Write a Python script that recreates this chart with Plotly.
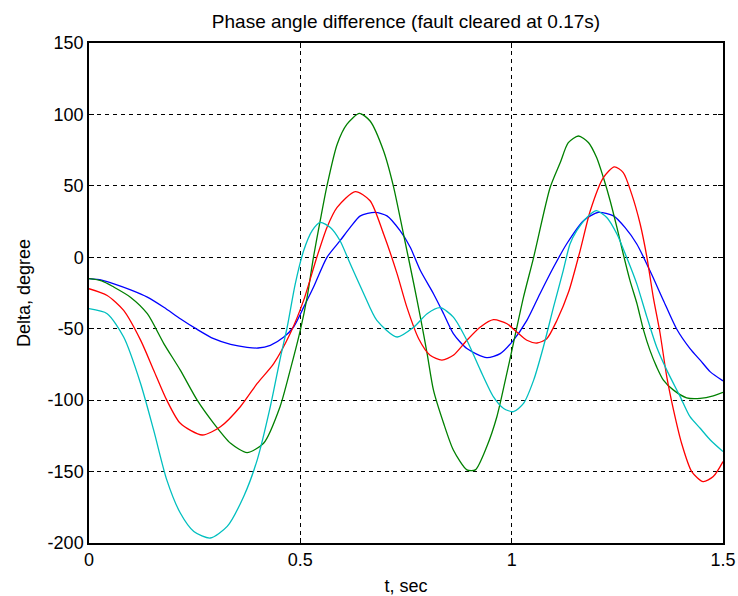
import plotly.graph_objects as go

# ---- data ----
t_blue = [0, 0.03, 0.059, 0.1, 0.138, 0.177, 0.216, 0.256, 0.295, 0.335, 0.374, 0.40, 0.429, 0.461,
          0.484, 0.508, 0.531, 0.563, 0.594, 0.618, 0.642, 0.677, 0.705, 0.736, 0.76, 0.784, 0.815,
          0.839, 0.862, 0.894, 0.941, 0.973, 1.004, 1.036, 1.067, 1.099, 1.13, 1.17, 1.205, 1.241,
          1.268, 1.296, 1.327, 1.359, 1.39, 1.422, 1.446, 1.47, 1.5]
y_blue = [-15, -16, -18.6, -23, -27.9, -35, -43, -50.5, -57, -61, -63, -63.5, -61.6, -55.8,
          -48.8, -34.9, -21, 0, 11.6, 20.9, 29, 31.4, 29, 18.6, 7, -9.3, -25.5,
          -39.5, -53.4, -63.9, -70.2, -67.4, -58.1, -44.2, -25.5, -7, 9.3, 25.6, 31.4, 29,
          20.9, 9.3, -9.3, -30.2, -50, -63.9, -72, -80.2, -86.5]

t_green = [0, 0.03, 0.059, 0.098, 0.138, 0.177, 0.216, 0.256, 0.295, 0.335, 0.374, 0.413, 0.452,
           0.476, 0.5, 0.516, 0.531, 0.547, 0.563, 0.587, 0.61, 0.64, 0.665, 0.697, 0.72, 0.744,
           0.768, 0.784, 0.8, 0.815, 0.839, 0.862, 0.894, 0.914, 0.941, 0.965, 0.985, 1.004, 1.028,
           1.052, 1.091, 1.115, 1.134, 1.158, 1.182, 1.201, 1.217, 1.233, 1.249, 1.264, 1.28, 1.296,
           1.312, 1.327, 1.343, 1.359, 1.383, 1.414, 1.446, 1.477, 1.5]
y_green = [-15, -16.5, -20.9, -27.9, -39.5, -60.4, -79, -100, -116.2, -130.2, -136.7, -130.2, -104.6,
           -79, -51, -28, 0, 25.6, 50, 79, 93, 100.7, 95.4, 74.4, 50, 16.3,
           -18, -41.9, -67.4, -93, -116.2, -134.9, -148.8, -148.8, -132.6, -111.6, -86, -60.4, -27.9,
           0, 48.8, 66.3, 80.2, 84.9, 80.2, 69.8, 55.8, 39.6, 20.9, 2.3, -16.3, -32,
           -51, -65, -76.7, -86, -93, -98.4, -98.8, -97, -94.5]

t_red = [0, 0.043, 0.082, 0.122, 0.153, 0.184, 0.216, 0.268, 0.311, 0.358, 0.398, 0.437, 0.476,
         0.508, 0.539, 0.563, 0.587, 0.63, 0.665, 0.697, 0.729, 0.752, 0.78, 0.807, 0.835, 0.862,
         0.894, 0.926, 0.957, 0.989, 1.012, 1.036, 1.06, 1.083, 1.107, 1.135, 1.162, 1.186, 1.217,
         1.243, 1.264, 1.284, 1.304, 1.32, 1.335, 1.351, 1.367, 1.383, 1.402, 1.426, 1.453, 1.477, 1.5]
y_red = [-22, -26.7, -37.2, -58, -79, -100, -116.2, -124.4, -118.6, -104.6, -88.3, -74.4, -53.4,
         -30, 0, 20.9, 34.9, 46, 39.6, 16.3, -11.6, -34.9, -57, -68.6, -72, -68.6,
         -58.1, -48.8, -43.7, -46.5, -52.3, -58.1, -60, -57, -44.2, -24, 4.7, 32.6, 55.8,
         63.3, 59.3, 44.2, 23.3, 0, -27.9, -53, -83.7, -107, -130.2, -150, -157, -153.5, -143]

t_cyan = [0, 0.043, 0.082, 0.122, 0.153, 0.184, 0.216, 0.248, 0.287, 0.327, 0.366, 0.398, 0.429,
          0.453, 0.469, 0.488, 0.508, 0.528, 0.547, 0.571, 0.594, 0.618, 0.65, 0.681, 0.729, 0.768,
          0.8, 0.831, 0.862, 0.894, 0.926, 0.957, 0.981, 1.004, 1.028, 1.052, 1.075, 1.099, 1.122,
          1.138, 1.154, 1.178, 1.2, 1.225, 1.249, 1.272, 1.296, 1.32, 1.343, 1.367, 1.399, 1.422,
          1.446, 1.47, 1.5]
y_cyan = [-36, -39.5, -55.8, -88.3, -121, -155.8, -179, -191.9, -196.5, -188.4, -167.4, -141.8, -104.6,
          -70, -48.8, -18.6, 4.7, 18.6, 24.4, 20.9, 11.6, -4.6, -25.5, -44.2, -55.8, -49,
          -39.5, -35.3, -41.9, -58.1, -79, -97.7, -105.8, -108.1, -102.3, -86, -62.8, -34.9, -9.3,
          9.3, 18.6, 27.9, 32.6, 27.9, 16.3, 0, -18.6, -41.9, -62.8, -79, -97.7, -111.6,
          -119.7, -127.9, -136]

x_ticks = [0, 0.5, 1, 1.5]
x_ticklabels = ["0", "0.5", "1", "1.5"]
y_ticks = [-200, -150, -100, -50, 0, 50, 100, 150]
y_ticklabels = ["-200", "-150", "-100", "-50", "0", "50", "100", "150"]

series = [
    (t_blue, y_blue, "#0000FF"),
    (t_green, y_green, "#008000"),
    (t_red, y_red, "#FF0000"),
    (t_cyan, y_cyan, "#00BFBF"),
]

FONT = "Liberation Sans, Arial, sans-serif"

fig = go.Figure()
for tx, ty, col in series:
    fig.add_trace(go.Scatter(x=tx, y=ty, mode="lines",
                             line=dict(color=col, width=1.3, shape="spline", smoothing=0.7),
                             showlegend=False, hoverinfo="skip"))

axis_common = dict(
    showline=True, linecolor="black", linewidth=1.5, mirror="ticks",
    ticks="inside", ticklen=5, tickcolor="black", tickwidth=1,
    showgrid=True, gridcolor="black", gridwidth=1, griddash="4px,4px",
    zeroline=False, automargin=False,
    tickfont=dict(family=FONT, size=18, color="black"),
)

fig.update_xaxes(range=[0, 1.5], tickvals=x_ticks, ticktext=x_ticklabels,
                 title=dict(text="t, sec", font=dict(family=FONT, size=18, color="black"), standoff=10),
                 **axis_common)
fig.update_yaxes(range=[-200, 150], tickvals=y_ticks, ticktext=y_ticklabels,
                 title=dict(text="Delta, degree", font=dict(family=FONT, size=18, color="black"), standoff=12),
                 **axis_common)

fig.update_layout(
    width=738, height=596,
    margin=dict(l=89, r=15, t=43, b=53, autoexpand=False),
    paper_bgcolor="white", plot_bgcolor="white",
    title=dict(text="Phase angle difference (fault cleared at 0.17s)",
               font=dict(family=FONT, size=19, color="black"),
               x=0.5, xanchor="center", xref="paper",
               y=1 - 21 / 596, yanchor="middle", yref="container"),
)

fig.write_html("out.html")
